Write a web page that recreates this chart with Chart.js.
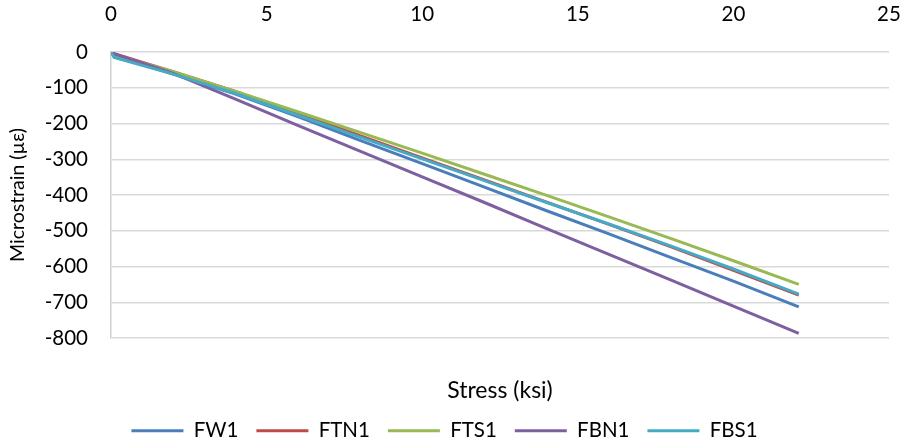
<!DOCTYPE html>
<html>
<head>
<meta charset="utf-8">
<script src="https://cdn.jsdelivr.net/npm/chart.js@4"></script>
<style>
  html, body { margin: 0; padding: 0; background: #fff; overflow: hidden; }
  #wrap { width: 904px; height: 451px; }
</style>
</head>
<body>
<div id="wrap"><canvas id="strainChart"></canvas></div>
<script>
// stress values (ksi) shared by all gauges
const stress = [0, 0.1, 2, 4, 6, 8, 10, 12, 14, 16, 18, 20, 22.1];

// microstrain readings per gauge
const fw1  = [-3, -10, -62, -118, -181, -247, -312, -378, -444, -509, -575, -641, -713];
const ftn1 = [-2, -5, -55, -110, -172, -234, -296, -358, -420, -482, -545, -611, -680];
const fts1 = [-3, -8, -55, -110, -167, -225, -283, -342, -401, -461, -522, -584, -650];
const fbn1 = [-2, -5, -60, -132, -205, -277, -349, -421, -494, -566, -638, -711, -787];
const fbs1 = [0, -15, -62, -116, -177, -238, -299, -360, -421, -481, -543, -607, -677];

const seriesNames = ['FW1', 'FTN1', 'FTS1', 'FBN1', 'FBS1'];
const seriesColors = ['#4A7EBB', '#BE4B48', '#98B954', '#7D60A0', '#46AAC5'];
const seriesValues = [fw1, ftn1, fts1, fbn1, fbs1];

const xTicks = [0, 5, 10, 15, 20, 25];
const yTicks = [0, -100, -200, -300, -400, -500, -600, -700, -800];

Chart.defaults.font.family = 'Lato, "Noto Sans", sans-serif';
Chart.defaults.font.size = 20.5;
Chart.defaults.color = '#000';

const datasets = seriesNames.map(function(name, i) {
    return {
        label: name,
        data: stress.map(function(s, j) { return { x: s, y: seriesValues[i][j] }; }),
        borderColor: seriesColors[i],
        backgroundColor: seriesColors[i],
        borderWidth: 3,
        pointRadius: 0,
        tension: 0,
        order: seriesNames.length - i   // later series drawn on top, like the original
    };
});

const ctx = document.getElementById('strainChart').getContext('2d');
new Chart(ctx, {
    type: 'line',
    data: { datasets: datasets },
    options: {
        responsive: true,
        maintainAspectRatio: false,
        animation: false,
        layout: { padding: { left: 0, right: 15, top: 0, bottom: 0 } },
        plugins: {
            tooltip: { enabled: false },
            legend: {
                position: 'bottom',
                labels: {
                    usePointStyle: true,
                    pointStyle: 'line',
                    pointStyleWidth: 52,
                    boxHeight: 3,
                    padding: 18,
                    font: { size: 20.5 },
                    sort: function(a, b) { return a.datasetIndex - b.datasetIndex; }
                }
            }
        },
        scales: {
            x: {
                type: 'linear',
                position: 'top',
                min: 0,
                max: 25,
                afterBuildTicks: function(s) { s.ticks = xTicks.map(function(v) { return { value: v }; }); },
                afterFit: function(s) { s.height = 52; s.paddingRight = 0; s.paddingLeft = 0; },
                grid: { display: false, drawTicks: false },
                border: { display: false },
                ticks: { padding: 25 }
            },
            x2: {
                type: 'linear',
                position: 'bottom',
                min: 0,
                max: 25,
                afterFit: function(s) { s.height = 64.5; s.paddingRight = 0; s.paddingLeft = 0; },
                grid: { display: false, drawTicks: false },
                border: { display: false },
                ticks: { display: false },
                title: { display: true, text: 'Stress (ksi)', font: { size: 23 }, padding: { top: 0, bottom: -2 } }
            },
            y: {
                type: 'linear',
                min: -800,
                max: 0,
                afterBuildTicks: function(s) { s.ticks = yTicks.map(function(v) { return { value: v }; }); },
                afterFit: function(s) { s.width = 111; },
                grid: { color: '#D9D9D9', lineWidth: 1.5, drawTicks: false },
                border: { color: '#CFCFCF', width: 1.5 },
                ticks: { padding: 23 },
                title: { display: true, text: 'Microstrain (µε)', font: { size: 19.5 }, padding: { top: 6, bottom: 0 } }
            }
        }
    }
});
</script>
</body>
</html>
